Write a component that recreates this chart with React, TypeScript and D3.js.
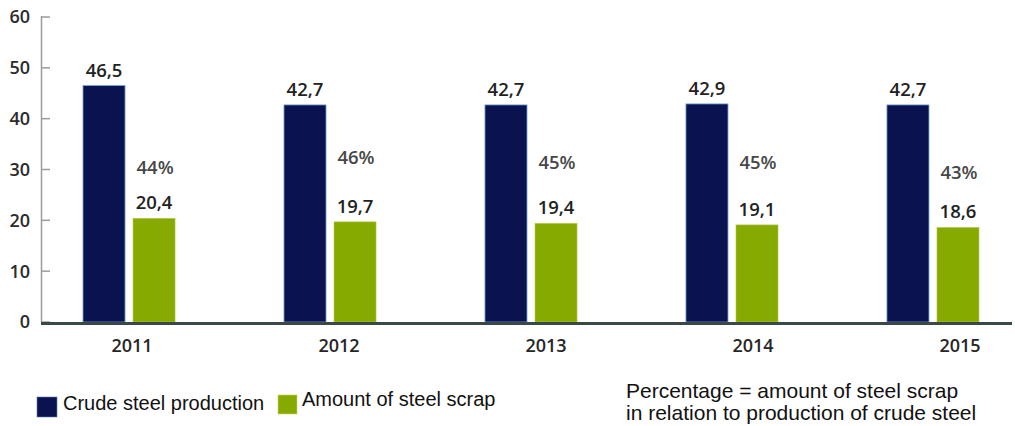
import React from "react";
import * as d3 from "d3";

const years = ["2011", "2012", "2013", "2014", "2015"];
const crudeSteel = [46.5, 42.7, 42.7, 42.9, 42.7];
const steelScrap = [20.4, 19.7, 19.4, 19.1, 18.6];
const scrapShare = [44, 46, 45, 45, 43];
const yTicks = [0, 10, 20, 30, 40, 50, 60];
const seriesNames = ["Crude steel production", "Amount of steel scrap"];
const noteLines = ["Percentage = amount of steel scrap", "in relation to production of crude steel"];

const W = 1015;
const H = 426;
const NAVY = "#0a1350";
const GREEN = "#86aa00";
const NUM_FONT = "'Open Sans', 'DejaVu Sans', sans-serif";
const TXT_FONT = "'Liberation Sans', Arial, sans-serif";

const locale = d3.formatLocale({ decimal: ",", thousands: ".", grouping: [3], currency: ["", ""] });
const fmt = locale.format(".1f");

export default function App() {
  const y = d3.scaleLinear().domain([0, 60]).range([322, 17]);
  const pctY = d3.scaleLinear().domain([40, 50]).range([194, 144]);
  const x = d3.scaleBand().domain(years).range([42, 1020]).paddingInner(0.542).paddingOuter(0.204);
  const inner = d3.scaleBand().domain(["crude", "scrap"]).range([0, x.bandwidth()]).paddingInner(0.16);
  const xLabel = d3.scalePoint().domain(years).range([132, 960]);

  return (
    <svg
      width={W}
      height={H}
      style={{ position: "fixed", left: 0, top: 0, background: "#fff" }}
    >
      {/* y axis */}
      <line x1={41.5} x2={41.5} y1={16} y2={322} stroke="#9c9c9c" strokeWidth={1.5} />
      {yTicks.map((t) => (
        <g key={t}>
          <line x1={41} x2={50} y1={y(t)} y2={y(t)} stroke="#9c9c9c" strokeWidth={1.5} />
          <text
            x={30}
            y={y(t)}
            dy="0.36em"
            textAnchor="end"
            fontFamily={NUM_FONT}
            fontWeight={600}
            fontSize={18}
            fill="#2b2b2b"
          >
            {t}
          </text>
        </g>
      ))}

      {/* bars */}
      {years.map((yr, i) => {
        const gx = x(yr) as number;
        const cx = gx + (inner("crude") as number);
        const sx = gx + (inner("scrap") as number);
        const bw = inner.bandwidth();
        return (
          <g key={yr}>
            <rect
              x={cx}
              y={y(crudeSteel[i])}
              width={bw}
              height={y(0) - y(crudeSteel[i])}
              fill={NAVY}
              stroke="#6f9fd0"
              strokeWidth={0.8}
            />
            <rect
              x={sx}
              y={y(steelScrap[i])}
              width={bw}
              height={y(0) - y(steelScrap[i])}
              fill={GREEN}
              stroke="#b7c94a"
              strokeWidth={0.6}
            />
            <text
              x={cx + bw / 2}
              y={y(crudeSteel[i]) - 9}
              textAnchor="middle"
              fontFamily={NUM_FONT}
              fontWeight={600}
              fontSize={18.5}
              fill="#222"
            >
              {fmt(crudeSteel[i])}
            </text>
            <text
              x={sx + bw / 2}
              y={y(steelScrap[i]) - 9}
              textAnchor="middle"
              fontFamily={NUM_FONT}
              fontWeight={600}
              fontSize={18.5}
              fill="#222"
            >
              {fmt(steelScrap[i])}
            </text>
            <text
              x={sx + bw / 2 + 1}
              y={pctY(scrapShare[i])}
              textAnchor="middle"
              fontFamily={NUM_FONT}
              fontWeight={600}
              fontSize={18.5}
              fill="#474747"
            >
              {scrapShare[i]}%
            </text>
            <text
              x={xLabel(yr) as number}
              y={352}
              textAnchor="middle"
              fontFamily={NUM_FONT}
              fontWeight={600}
              fontSize={18}
              fill="#262626"
            >
              {yr}
            </text>
          </g>
        );
      })}

      {/* baseline */}
      <line x1={41} x2={1012} y1={323.5} y2={323.5} stroke="#3b4848" strokeWidth={3} />

      {/* legend */}
      <rect x={37} y={397} width={20} height={20} fill={NAVY} stroke="#5a7fb0" strokeWidth={0.6} />
      <text x={63} y={410} fontFamily={TXT_FONT} fontSize={20} fill="#111">
        {seriesNames[0]}
      </text>
      <rect x={278} y={395} width={19} height={19} fill={GREEN} stroke="#c8d860" strokeWidth={0.6} />
      <text x={302} y={406} fontFamily={TXT_FONT} fontSize={20} fill="#111">
        {seriesNames[1]}
      </text>

      {/* note */}
      {noteLines.map((l, i) => (
        <text key={i} x={626} y={398 + i * 22} fontFamily={TXT_FONT} fontSize={21} fill="#111">
          {l}
        </text>
      ))}
    </svg>
  );
}
